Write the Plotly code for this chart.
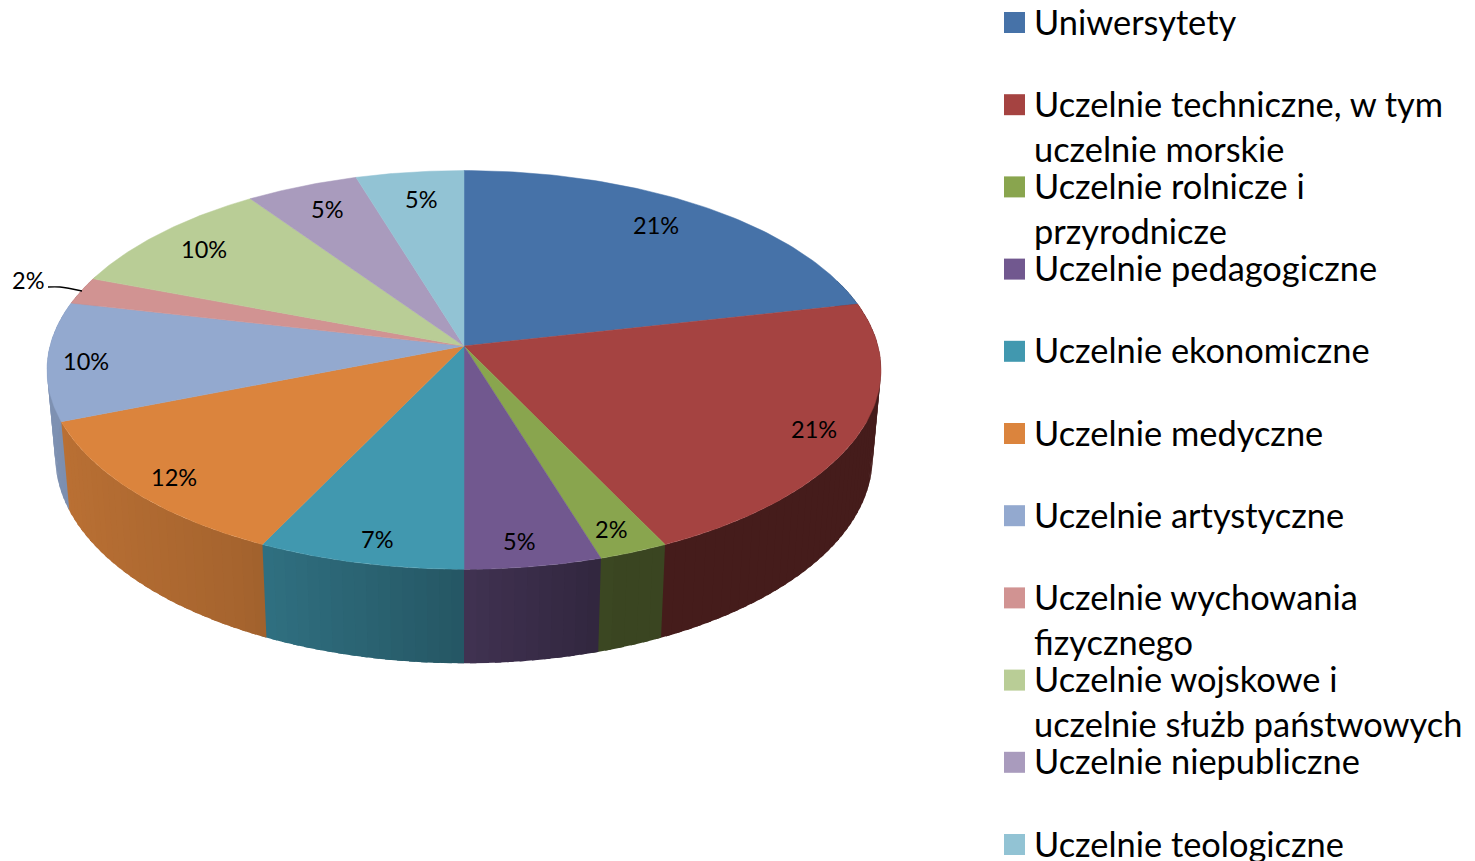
"""Pseudo-3D pie of higher education institutions by type, drawn with Plotly scatter fills."""

import numpy as np
import plotly.graph_objects as go

# data
categories = [
    "Uniwersytety",
    "Uczelnie techniczne, w tym<br>uczelnie morskie",
    "Uczelnie rolnicze i<br>przyrodnicze",
    "Uczelnie pedagogiczne",
    "Uczelnie ekonomiczne",
    "Uczelnie medyczne",
    "Uczelnie artystyczne",
    "Uczelnie wychowania<br>fizycznego",
    "Uczelnie wojskowe i<br>uczelnie służb państwowych",
    "Uczelnie niepubliczne",
    "Uczelnie teologiczne",
]
shares = [21.49, 21.38, 2.4, 4.73, 7.15, 11.85, 9.6, 2.2, 9.6, 4.9, 4.7]
colors = ["#4672a8", "#a54341", "#89a54e", "#71588f", "#4198af", "#db843d",
          "#93a9cf", "#d19392", "#b9cd96", "#a99bbd", "#92c3d4"]
label_x = [656, 814, 611, 519, 377, 174, 86, 28, 204, 327, 421]
label_y = [225, 429, 529, 541, 539, 477, 361, 280, 249, 209, 199]

# projection of the unit disc onto the page
CX, CY = 464, 346
A, B, C = 414, 196.5, 0.12
FONT = "Lato"


def top_xy(t):
    u, v = np.sin(t), np.cos(t)
    return CX + A * u / (1 + C * v), CY - B * v / (1 + C * v)


def bottom_xy(t):
    x, y = top_xy(t)
    return CX + 0.98 * (x - CX), y + 86 - 8 * np.cos(t)


def shade(hex_color, t):
    f = np.interp(np.sin(t), [-1, -0.5, 0, 0.33, 1], [0.86, 0.76, 0.57, 0.42, 0.42])
    r, g, b = (int(hex_color[i:i + 2], 16) for i in (1, 3, 5))
    return f"rgb({r * f:.0f},{g * f:.0f},{b * f:.0f})"


edges = np.radians(np.cumsum([0] + shares) * 3.6)
fig = go.Figure()

# side wall, in angle order; each strip runs under the next one so no seams show
for i, color in enumerate(colors):
    n = max(2, int(np.degrees(edges[i + 1] - edges[i]) / 1.5))
    ts = np.linspace(edges[i], edges[i + 1], n + 1)
    for t0, t1 in zip(ts[:-1], ts[1:]):
        if np.cos((t0 + t1) / 2) > 0.35:
            continue
        arc = np.linspace(t0, t1 + np.radians(0.8), 4)
        x0, y0 = top_xy(arc)
        x1, y1 = bottom_xy(arc[::-1])
        fig.add_trace(go.Scatter(
            x=np.r_[x0, x1], y=np.r_[y0, y1], mode="lines", fill="toself",
            fillcolor=shade(color, (t0 + t1) / 2), line=dict(width=0), hoverinfo="skip",
        ))

# top face
for i, color in enumerate(colors):
    ts = np.linspace(edges[i], edges[i + 1], 80)
    x, y = top_xy(ts)
    fig.add_trace(go.Scatter(
        x=np.r_[CX, x, CX], y=np.r_[CY, y, CY], mode="lines", fill="toself",
        fillcolor=color, line=dict(color=color, width=0.5),
        name=categories[i].replace("<br>", " "), hoverinfo="name",
    ))

# leader line of the small 2% slice
fig.add_trace(go.Scatter(
    x=[48, 60, 82], y=[287, 287, 291], mode="lines",
    line=dict(color="black", width=1.3, shape="spline"), hoverinfo="skip",
))

# legend swatches
fig.add_trace(go.Scatter(
    x=[1014.5] * len(colors), y=[22.5 + 82.2 * i for i in range(len(colors))], mode="markers",
    marker=dict(symbol="square", size=21, color=colors, line=dict(width=0)), hoverinfo="skip",
))

for i, share in enumerate(shares):
    fig.add_annotation(x=label_x[i], y=label_y[i], text=f"{share:.0f}%", showarrow=False,
                       font=dict(family=FONT, size=23.5, color="black"))

for i, name in enumerate(categories):
    for j, line in enumerate(name.split("<br>")):
        fig.add_annotation(x=1032, y=21 + 82.2 * i + 45 * j, text=line, showarrow=False,
                           xanchor="left", font=dict(family=FONT, size=34.4, color="black"))

fig.update_layout(
    width=1475, height=861,
    margin=dict(l=0, r=0, t=0, b=0),
    paper_bgcolor="white", plot_bgcolor="white",
    showlegend=False,
    xaxis=dict(range=[0, 1475], visible=False, fixedrange=True),
    yaxis=dict(range=[861, 0], visible=False, fixedrange=True),
)
fig.write_html("out.html", config=dict(displayModeBar=False),
               post_script="document.body.style.margin='0';")
